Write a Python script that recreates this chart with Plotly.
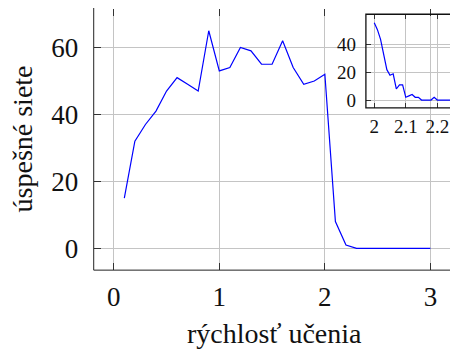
import plotly.graph_objects as go

# Main series: learning rate vs. number of successful networks
main_x = [0.1, 0.2, 0.3, 0.4, 0.5, 0.6, 0.7, 0.8, 0.9, 1.0,
          1.1, 1.2, 1.3, 1.4, 1.5, 1.6, 1.7, 1.8, 1.9, 2.0,
          2.1, 2.2, 2.3, 2.4, 2.5, 2.6, 2.7, 2.8, 2.9, 3.0]
main_y = [15, 32, 37, 41, 47, 51, 49, 47, 65, 53,
          54, 60, 59, 55, 55, 62, 54, 49, 50, 52,
          8, 1, 0, 0, 0, 0, 0, 0, 0, 0]

# Inset series: fine sweep around 2.0
inset_x = [2.00, 2.01, 2.02, 2.03, 2.04, 2.05, 2.06, 2.07, 2.08, 2.09,
           2.10, 2.11, 2.12, 2.13, 2.14, 2.15, 2.16, 2.17, 2.18, 2.19,
           2.20, 2.21, 2.22, 2.23, 2.24, 2.25, 2.26, 2.27, 2.28, 2.29, 2.30]
inset_y = [56, 51, 44, 33, 22, 18, 19, 8, 11, 11,
           2, 3, 4, 2, 2, 0, 0, 0, 0, 2,
           0, 0, 0, 0, 0, 0, 0, 0, 0, 0, 0]

main_xticks = [0, 1, 2, 3]
main_yticks = [0, 20, 40, 60]
inset_xticks = [2, 2.1, 2.2]
inset_xticklabels = ["2", "2.1", "2.2"]
inset_yticks = [0, 20, 40]

x_label = "rýchlosť učenia"
y_label = "úspešné siete"

FONT = "Liberation Serif"
OFF = 8  # page body margin
W, H = 458 - OFF, 352 - OFF

# pixel geometry (window coordinates)
mx0, mx1 = 93.9, 462.0
my0, my1 = 5.7, 272.2
ix0, ix1 = 366.7, 470.0
iy0, iy1 = 13.3, 108.0

def px(v):
    return (v - OFF) / W

def py(v):
    return 1 - (v - OFF) / H

fig = go.Figure()
fig.add_trace(go.Scatter(x=main_x, y=main_y, mode="lines",
                         line=dict(color="#0000ff", width=1.2),
                         xaxis="x", yaxis="y", showlegend=False))
fig.add_trace(go.Scatter(x=inset_x, y=inset_y, mode="lines",
                         line=dict(color="#0000ff", width=1.2),
                         xaxis="x2", yaxis="y2", showlegend=False))

grid = "#c4c4c4"
tickc = "#333333"
common = dict(showgrid=True, gridcolor=grid, gridwidth=1, zeroline=False,
              ticks="inside", tickcolor=tickc, tickwidth=1,
              showline=True, linecolor="rgba(0,0,0,0)", mirror="ticks")

fig.update_layout(
    width=W, height=H,
    margin=dict(l=0, r=0, t=0, b=0),
    paper_bgcolor="white", plot_bgcolor="rgba(0,0,0,0)",
    font=dict(family=FONT, color="#111111"),
    xaxis=dict(domain=[px(mx0), 1.0], range=[-0.19, 3.252],
               tickvals=main_xticks, ticklen=7,
               tickfont=dict(size=27, family=FONT), ticklabelstandoff=2,
               **common),
    yaxis=dict(domain=[max(0, py(my1)), min(1, py(my0))], range=[-6.5, 71.5],
               tickvals=main_yticks, ticklen=7,
               tickfont=dict(size=27, family=FONT), ticklabelstandoff=9,
               **common),
    xaxis2=dict(domain=[px(ix0), 1.0], range=[1.9735, 2.2625],
                tickvals=inset_xticks, ticktext=inset_xticklabels, ticklen=5,
                tickfont=dict(size=19, family=FONT), ticklabelstandoff=1,
                anchor="y2", **common),
    yaxis2=dict(domain=[py(iy1), py(iy0)], range=[-5.65, 62.15],
                tickvals=inset_yticks, ticklen=5,
                tickfont=dict(size=19, family=FONT), ticklabelstandoff=5,
                anchor="x2", **common),
    shapes=[
        dict(type="rect", xref="paper", yref="paper",
             x0=px(mx0), x1=px(mx1), y0=py(my1), y1=py(my0),
             line=dict(color="#222222", width=1), fillcolor="rgba(0,0,0,0)"),
        dict(type="rect", xref="paper", yref="paper",
             x0=px(ix0), x1=px(ix1), y0=py(iy1), y1=py(iy0),
             line=dict(color="#111111", width=1.3), fillcolor="rgba(0,0,0,0)"),
    ],
    annotations=[
        dict(text=x_label, xref="paper", yref="paper", x=px(275), y=py(336),
             xanchor="center", yanchor="middle", showarrow=False,
             font=dict(size=28, family=FONT, color="#111111")),
        dict(text=y_label, xref="paper", yref="paper", x=px(23), y=py(139),
             xanchor="center", yanchor="middle", showarrow=False, textangle=-90,
             font=dict(size=28, family=FONT, color="#111111")),
    ],
)

fig.write_html("out.html")
